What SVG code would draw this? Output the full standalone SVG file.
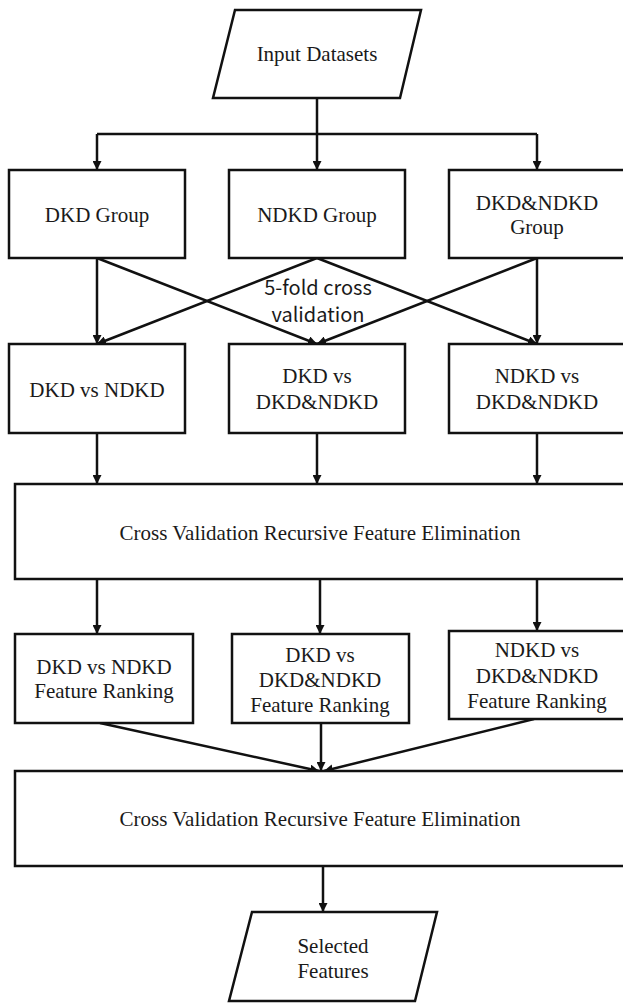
<svg xmlns="http://www.w3.org/2000/svg" width="623" height="1004" viewBox="0 0 623 1004">
<defs>
<style>
.box{fill:#fff;stroke:#111;stroke-width:2.5}
.t{font-family:'Liberation Serif','Times New Roman','DejaVu Serif',serif;font-size:21px;fill:#1a1a1a;text-anchor:middle}
.s{font-family:'Noto Sans CJK SC','Noto Sans',sans-serif;font-size:20px;fill:#1a1a1a;text-anchor:middle}
.c line{stroke:#111;stroke-width:2.5;fill:none}
</style>
<marker id="ah" viewBox="0 0 10 10" refX="10" refY="5" markerWidth="9" markerHeight="9" markerUnits="userSpaceOnUse" orient="auto">
<path d="M0,0 L10,5 L0,10 z" fill="#111"/>
</marker>
</defs>
<rect width="623" height="1004" fill="#fff"/>
<g id="connectors" class="c">
<line x1="317" y1="98" x2="317" y2="134"/>
<line x1="97" y1="134" x2="537" y2="134"/>
<line x1="97" y1="134" x2="97" y2="170" marker-end="url(#ah)"/>
<line x1="317" y1="134" x2="317" y2="170" marker-end="url(#ah)"/>
<line x1="537" y1="134" x2="537" y2="170" marker-end="url(#ah)"/>
<line x1="97" y1="258" x2="97" y2="344" marker-end="url(#ah)"/>
<line x1="97" y1="258" x2="317" y2="344" marker-end="url(#ah)"/>
<line x1="317" y1="258" x2="97" y2="344" marker-end="url(#ah)"/>
<line x1="317" y1="258" x2="537" y2="344" marker-end="url(#ah)"/>
<line x1="537" y1="258" x2="317" y2="344" marker-end="url(#ah)"/>
<line x1="537" y1="258" x2="537" y2="344" marker-end="url(#ah)"/>
<line x1="97" y1="433" x2="97" y2="484" marker-end="url(#ah)"/>
<line x1="317" y1="433" x2="317" y2="484" marker-end="url(#ah)"/>
<line x1="537" y1="433" x2="537" y2="484" marker-end="url(#ah)"/>
<line x1="97" y1="579" x2="97" y2="634" marker-end="url(#ah)"/>
<line x1="320" y1="579" x2="320" y2="634" marker-end="url(#ah)"/>
<line x1="537" y1="579" x2="537" y2="631" marker-end="url(#ah)"/>
<line x1="100" y1="723" x2="319" y2="771" marker-end="url(#ah)"/>
<line x1="321" y1="723" x2="321" y2="771" marker-end="url(#ah)"/>
<line x1="534" y1="719" x2="324" y2="771" marker-end="url(#ah)"/>
<line x1="323" y1="866" x2="323" y2="912" marker-end="url(#ah)"/>
</g>
<g id="input">
<polygon class="box" points="235,10 421,10 400,98 213,98"/>
<text class="t" x="317" y="61">Input Datasets</text>
</g>
<g id="dkd-group">
<rect class="box" x="9" y="170" width="176" height="88"/>
<text class="t" x="97" y="222">DKD Group</text>
</g>
<g id="ndkd-group">
<rect class="box" x="229" y="170" width="176" height="88"/>
<text class="t" x="317" y="222">NDKD Group</text>
</g>
<g id="both-group">
<rect class="box" x="449" y="170" width="180" height="88"/>
<text class="t" x="537" y="210">DKD&amp;NDKD</text>
<text class="t" x="537" y="234">Group</text>
</g>
<g id="cv-label">
<text class="s" x="318" y="295">5-fold cross</text>
<text class="s" x="318" y="322">validation</text>
</g>
<g id="dkd-vs-ndkd">
<rect class="box" x="9" y="344" width="176" height="89"/>
<text class="t" x="97" y="397">DKD vs NDKD</text>
</g>
<g id="dkd-vs-both">
<rect class="box" x="229" y="344" width="176" height="89"/>
<text class="t" x="317" y="383">DKD vs</text>
<text class="t" x="317" y="409">DKD&amp;NDKD</text>
</g>
<g id="ndkd-vs-both">
<rect class="box" x="449" y="344" width="180" height="89"/>
<text class="t" x="537" y="383">NDKD vs</text>
<text class="t" x="537" y="409">DKD&amp;NDKD</text>
</g>
<g id="cvrfe1">
<rect class="box" x="15" y="484" width="615" height="95"/>
<text class="t" x="320" y="540">Cross Validation Recursive Feature Elimination</text>
</g>
<g id="rank1">
<rect class="box" x="15" y="634" width="178" height="89"/>
<text class="t" x="104" y="674">DKD vs NDKD</text>
<text class="t" x="104" y="698">Feature Ranking</text>
</g>
<g id="rank2">
<rect class="box" x="232" y="634" width="177" height="89"/>
<text class="t" x="320" y="662">DKD vs</text>
<text class="t" x="320" y="687">DKD&amp;NDKD</text>
<text class="t" x="320" y="712">Feature Ranking</text>
</g>
<g id="rank3">
<rect class="box" x="449" y="631" width="180" height="88"/>
<text class="t" x="537" y="657">NDKD vs</text>
<text class="t" x="537" y="683">DKD&amp;NDKD</text>
<text class="t" x="537" y="708">Feature Ranking</text>
</g>
<g id="cvrfe2">
<rect class="box" x="15" y="771" width="615" height="95"/>
<text class="t" x="320" y="826">Cross Validation Recursive Feature Elimination</text>
</g>
<g id="selected">
<polygon class="box" points="252,912 437,912 415,1001 229,1001"/>
<text class="t" x="333" y="953">Selected</text>
<text class="t" x="333" y="978">Features</text>
</g>
</svg>
